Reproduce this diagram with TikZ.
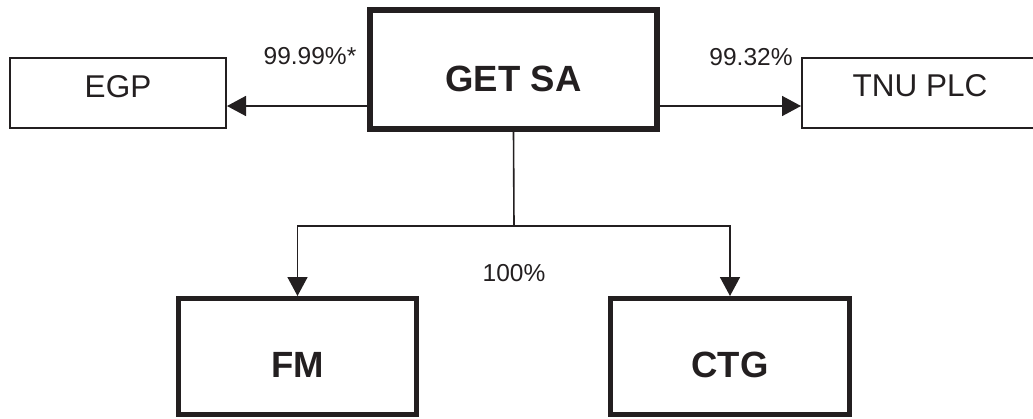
\documentclass[tikz,border=0pt]{standalone}
\usepackage{fontspec}
\setmainfont{Liberation Sans}
\usetikzlibrary{arrows.meta}
\definecolor{ink}{HTML}{231F20}
\tikzset{
  box/.style={draw=ink, text=ink, inner sep=0pt, text depth=0pt},
  bigbox/.style={box, font=\fontsize{36.5}{40}\selectfont\bfseries},
  smallbox/.style={box, line width=2pt, font=\fontsize{31.5}{36}\selectfont},
  pct/.style={text=ink, inner sep=0pt, text height=17.5pt, text depth=0pt, font=\fontsize{24.5}{28}\selectfont},
  conn/.style={draw=ink, line width=1.6pt},
  arr/.style={conn, -{Triangle[length=19pt,width=20pt]}}
}
\begin{document}
\begin{tikzpicture}[x={(1pt,0)}, y={(0,-1pt)}]
\useasboundingbox (0,0) rectangle (1033,418);
\node[bigbox, line width=6pt, minimum width=287pt, minimum height=119pt, text height=43pt] (get) at (513.5,69.5) {GET SA};
\node[smallbox, minimum width=216pt, minimum height=70pt, text height=8pt] (egp) at (118,93) {EGP};
\node[smallbox, minimum width=236pt, minimum height=70pt, text height=6.6pt] (tnu) at (920,93) {TNU PLC};
\node[bigbox, line width=5pt, minimum width=238pt, minimum height=116pt, text height=41pt] (fm) at (297.5,356.5) {FM};
\node[bigbox, line width=5pt, minimum width=239pt, minimum height=116pt, text height=41pt] (ctg) at (730,356.5) {CTG};
\coordinate (lvl) at (0,106);
\coordinate (bus) at (514,226);
\draw[arr] (get.west |- lvl) -- (egp.east |- lvl);
\draw[arr] (get.east |- lvl) -- (tnu.west |- lvl);
\draw[conn] (get.south) -- (bus);
\draw[arr] (bus) -| (fm.north);
\draw[arr] (bus) -| (ctg.north);
\node[pct] (l1) at (310,56) {99.99\%*};
\node[pct] (l2) at (751,57) {99.32\%};
\node[pct] (l3) at (514,273) {100\%};
\end{tikzpicture}
\end{document}
